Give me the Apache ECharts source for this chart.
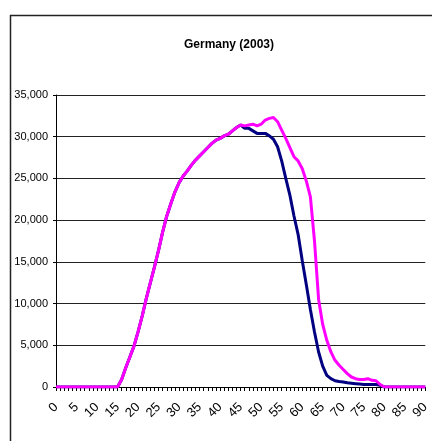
<!DOCTYPE html>
<html>
<head>
<meta charset="utf-8">
<script src="https://cdn.jsdelivr.net/npm/echarts@6/dist/echarts.min.js"></script>
<style>
  html, body { margin: 0; padding: 0; background: #fff; }
  #chart { width: 432px; height: 441px; }
</style>
</head>
<body>
<div id="chart"></div>
<script>
// Ages 0..90
const ages = Array.from({ length: 91 }, (_, i) => String(i));

// Navy series (values per age 0..90)
const navyValues = [
  0, 0, 0, 0, 0, 0, 0, 0, 0, 0,
  0, 0, 0, 0, 0, 0, 900, 2300, 3600, 4900,
  6600, 8500, 10600, 12500, 14400, 16400, 18600, 20500, 22000, 23400,
  24500, 25300, 25900, 26600, 27200, 27700, 28200, 28700, 29200, 29600,
  29800, 30100, 30300, 30700, 31100, 31400, 31000, 31000, 30700, 30400,
  30400, 30400, 30100, 29700, 28800, 27100, 25000, 23000, 20500, 18300,
  15200, 12300, 9300, 6600, 4200, 2500, 1400, 1000, 750, 650,
  600, 500, 450, 400, 350, 300, 300, 300, 300, 200,
  0, 0, 0, 0, 0, 0, 0, 0, 0, 0,
  0
];

// Magenta series (values per age 0..90)
const magentaValues = [
  0, 0, 0, 0, 0, 0, 0, 0, 0, 0,
  0, 0, 0, 0, 0, 0, 900, 2300, 3600, 4900,
  6600, 8500, 10600, 12500, 14400, 16400, 18600, 20500, 22000, 23400,
  24500, 25300, 25900, 26600, 27200, 27700, 28200, 28700, 29200, 29600,
  29800, 30100, 30300, 30700, 31100, 31400, 31300, 31400, 31500, 31300,
  31500, 32000, 32200, 32300, 31800, 30800, 29800, 28700, 27600, 27100,
  26200, 24700, 22800, 17500, 10500, 7500, 5600, 4200, 3200, 2600,
  2100, 1600, 1200, 1000, 900, 900, 1000, 800, 750, 300,
  0, 0, 0, 0, 0, 0, 0, 0, 0, 0,
  0
];

const yTicks = { min: 0, max: 35000, step: 5000 };

const FONT = '"Liberation Sans", Arial, sans-serif';

const chart = echarts.init(document.getElementById('chart'), null, { renderer: 'canvas' });

chart.setOption({
  animation: false,
  backgroundColor: '#ffffff',
  title: {
    text: 'Germany (2003)',
    left: 224,
    top: 34,
    textAlign: 'center',
    textStyle: { fontFamily: FONT, fontSize: 12, fontWeight: 'bold', color: '#000' }
  },
  graphic: [{
    type: 'rect',
    left: 8,
    top: 13,
    shape: { width: 600, height: 600 },
    style: { fill: 'none', stroke: '#222', lineWidth: 1.5 },
    silent: true,
    z: -1
  }],
  grid: { left: 56, top: 95, width: 374, bottom: 54, containLabel: false },
  xAxis: {
    type: 'category',
    data: ages,
    boundaryGap: false,
    axisLine: { lineStyle: { color: '#000', width: 1 } },
    axisTick: { show: true, interval: 0, length: 4, lineStyle: { color: '#000' } },
    axisLabel: {
      interval: 4,
      rotate: 45,
      margin: 18,
      fontFamily: FONT,
      fontSize: 13,
      color: '#000'
    },
    splitLine: { show: false }
  },
  yAxis: {
    type: 'value',
    min: yTicks.min,
    max: yTicks.max,
    interval: yTicks.step,
    axisLine: { show: true, lineStyle: { color: '#000', width: 1 } },
    axisTick: { show: true, length: 3, lineStyle: { color: '#000' } },
    axisLabel: {
      margin: 8,
      fontFamily: FONT,
      fontSize: 11,
      color: '#000',
      formatter: v => v.toLocaleString('en-US')
    },
    splitLine: { show: true, lineStyle: { color: '#222', width: 1 } }
  },
  series: [
    {
      type: 'line',
      data: navyValues,
      symbol: 'none',
      lineStyle: { color: '#000080', width: 3 },
      z: 2
    },
    {
      type: 'line',
      data: magentaValues,
      symbol: 'none',
      lineStyle: { color: '#ff00ff', width: 3 },
      z: 3
    }
  ]
});
</script>
</body>
</html>
